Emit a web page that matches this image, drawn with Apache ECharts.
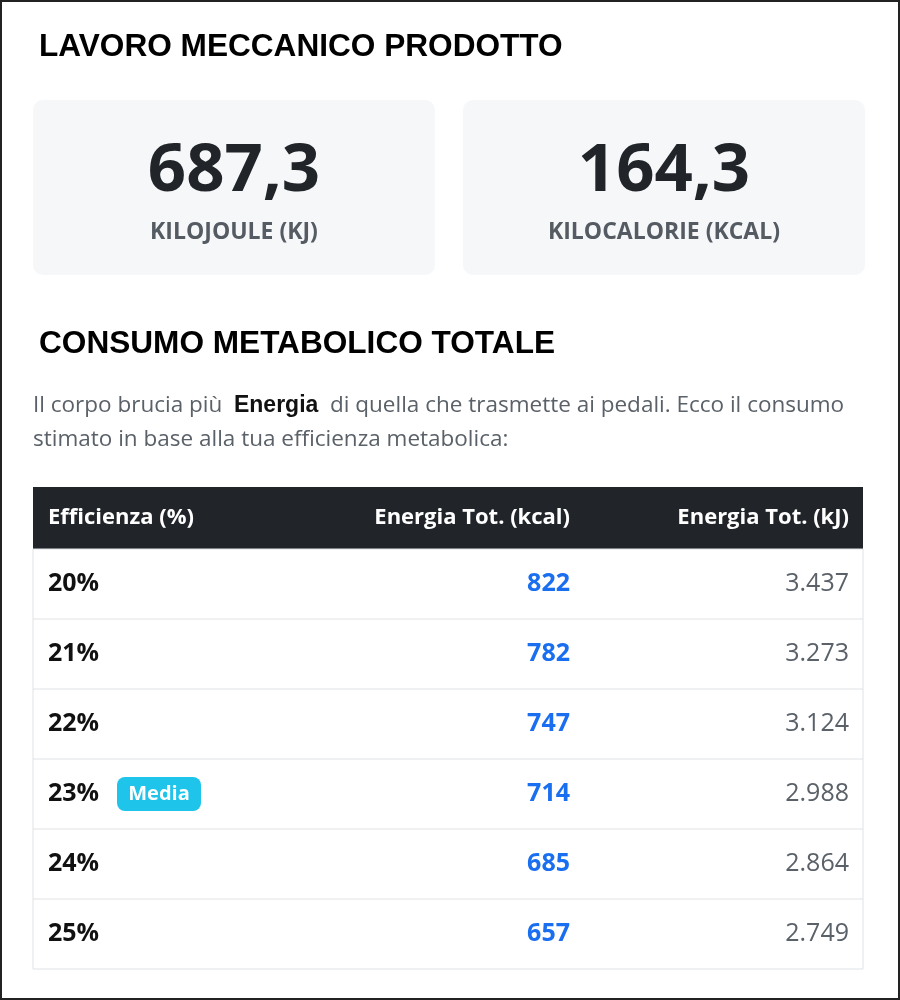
<!DOCTYPE html>
<html><head><meta charset="utf-8">
<script src="https://cdn.jsdelivr.net/npm/echarts@6/dist/echarts.min.js"></script>
<style>html,body{margin:0;padding:0;background:#fff}#c{width:900px;height:1000px}</style>
</head><body><div id="c"></div>
<script>
const cardValues = ['687,3', '164,3'];
const cardUnits = ['KILOJOULE (KJ)', 'KILOCALORIE (KCAL)'];
const headers = ['Efficienza (%)', 'Energia Tot. (kcal)', 'Energia Tot. (kJ)'];
const efficiency = ['20%', '21%', '22%', '23%', '24%', '25%'];
const kcal = ['822', '782', '747', '714', '685', '657'];
const kj = ['3.437', '3.273', '3.124', '2.988', '2.864', '2.749'];
const badgeRow = 3;
const badgeText = 'Media';

(function () {
  const body = '"Open Sans", "Noto Sans", sans-serif';
  const head = '"Liberation Sans", Arial, sans-serif';
  const g = [];

  g.push({ type: 'rect', shape: { x: 1, y: 1, width: 898, height: 998 }, style: { fill: '#fff', stroke: '#222', lineWidth: 2 } });

  function text(x, y, t, font, fill, align) {
    g.push({ type: 'text', x: x, y: y, style: { text: t, font: font, fill: fill, align: align || 'left', verticalAlign: 'middle' } });
  }

  text(39, 47, 'LAVORO MECCANICO PRODOTTO', 'bold 31.6px ' + head, '#000');
  text(39, 344, 'CONSUMO METABOLICO TOTALE', 'bold 31.6px ' + head, '#000');

  const cardX = [33, 463];
  cardValues.forEach((v, i) => {
    const cx = cardX[i] + 201;
    g.push({ type: 'rect', shape: { x: cardX[i], y: 100, width: 402, height: 175, r: 10 }, style: { fill: '#f6f7f9' } });
    text(cx, 172, v, 'bold 67px ' + body, '#212529', 'center');
    text(cx, 232, cardUnits[i], 'bold 23px ' + body, '#555b62', 'center');
  });

  g.push({ type: 'text', x: 33, y: 406, style: {
    text: 'Il corpo brucia più  {b|Energia}  di quella che trasmette ai pedali. Ecco il consumo',
    font: '22.5px ' + body, fill: '#5a6168', verticalAlign: 'middle',
    rich: { b: { fontFamily: head, fontWeight: 'bold', fontSize: 23, fill: '#111' } }
  } });
  text(33, 440, 'stimato in base alla tua efficienza metabolica:', '22.5px ' + body, '#5a6168');

  const tx = 33, tw = 830, hy = 487, hh = 62, rh = 70;
  g.push({ type: 'rect', shape: { x: tx, y: hy, width: tw, height: hh }, style: { fill: '#212529' } });
  const colX = [48, 570, 849];
  const colAlign = ['left', 'right', 'right'];
  headers.forEach((h, i) => text(colX[i], hy + hh / 2, h, 'bold 22px ' + body, '#fff', colAlign[i]));

  const rowTop = hy + hh;
  g.push({ type: 'rect', shape: { x: tx, y: rowTop, width: tw, height: rh * efficiency.length }, style: { fill: '#fff', stroke: '#dee2e6', lineWidth: 1 } });
  efficiency.forEach((e, r) => {
    const y = rowTop + r * rh, cy = y + rh / 2;
    if (r > 0) g.push({ type: 'line', shape: { x1: tx, y1: y, x2: tx + tw, y2: y }, style: { stroke: '#dee2e6', lineWidth: 1 } });
    text(colX[0], cy, e, 'bold 25px ' + body, '#111');
    text(colX[1], cy, kcal[r], 'bold 25px ' + body, '#1a6ef0', 'right');
    text(colX[2], cy, kj[r], '25px ' + body, '#5a6168', 'right');
    if (r === badgeRow) {
      g.push({ type: 'rect', shape: { x: 117, y: cy - 17, width: 84, height: 34, r: 8 }, style: { fill: '#1ec4ea' } });
      text(159, cy, badgeText, 'bold 20px ' + body, '#fff', 'center');
    }
  });

  const chart = echarts.init(document.getElementById('c'));
  chart.setOption({ animation: false, graphic: { elements: g } });
}());
</script></body></html>
